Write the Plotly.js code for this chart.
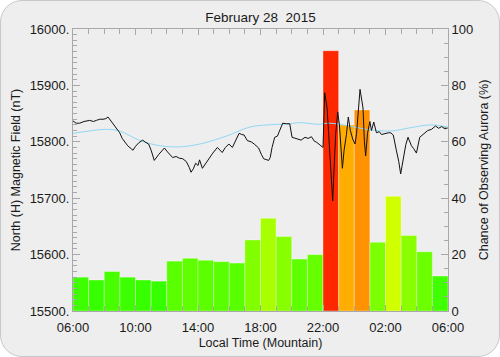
<!DOCTYPE html>
<html>
<head>
<meta charset="utf-8">
<script src="https://cdn.plot.ly/plotly-3.0.1.min.js"></script>
<style>
html,body{margin:0;padding:0;background:#ffffff;}
#frame{position:absolute;left:0;top:0;width:500px;height:357px;box-sizing:border-box;border:1px solid #c8c8c8;border-radius:22px;background:#eeeeee;}
#chart{position:absolute;left:0;top:0;width:500px;height:357px;}
</style>
</head>
<body>
<div id="frame"></div>
<div id="chart"></div>
<script>
// Hourly aurora chance bars (hour start, hours from 06:00 = 6 ... 05:00 next day = 29)
const barHours = [6,7,8,9,10,11,12,13,14,15,16,17,18,19,20,21,22,23,24,25,26,27,28,29];
const auroraChance = [12,11,14,12,11,10.6,17.7,18.7,18,17.5,17,25.2,32.9,26.4,18.4,20,92.3,66,71.3,24.4,40.7,26.8,21,12.4];

// Magnetic field (nT), time in hours since midnight of Feb 28 (local)
const fieldHours = [6.0,6.2,6.43,6.7,7.07,7.3,7.5,7.71,7.92,8.1,8.24,8.35,8.5,8.7,8.99,9.15,9.31,9.5,9.84,10.0,10.2,10.46,10.6,10.84,11.0,11.2,11.5,11.85,12.05,12.38,12.6,12.8,13.02,13.25,13.45,13.55,13.7,13.85,14.0,14.1,14.28,14.5,14.7,14.95,15.24,15.4,15.55,15.75,15.98,16.2,16.4,16.63,16.8,16.95,17.16,17.4,17.6,17.88,18.05,18.2,18.52,18.62,18.74,18.91,19.08,19.25,19.42,19.65,19.87,20.02,20.3,20.6,20.85,21.05,21.26,21.45,21.6,21.8,22.0,22.11,22.2,22.26,22.35,22.43,22.52,22.62,22.72,22.81,22.94,23.05,23.24,23.35,23.5,23.62,23.75,23.9,24.05,24.15,24.37,24.47,24.56,24.65,24.73,24.85,25.0,25.1,25.25,25.42,25.6,25.74,26.0,26.2,26.33,26.5,26.7,26.85,26.97,27.15,27.3,27.44,27.55,27.66,27.8,27.98,28.19,28.35,28.5,28.7,28.94,29.2,29.4,29.6,29.8,30.0];
const fieldValues = [15837,15833,15833,15836,15838,15836,15838,15840,15840,15841,15844,15840,15834,15826,15816,15806,15799,15793,15785,15792,15798,15803,15800,15796,15785,15767,15778,15789,15782,15772,15774,15771,15770,15765,15754,15746,15752,15762,15758,15768,15753,15762,15772,15780,15790,15786,15781,15790,15796,15790,15802,15815,15813,15812,15802,15800,15796,15789,15778,15770,15767,15772,15790,15808,15810,15822,15833,15832,15832,15808,15805,15803,15808,15806,15809,15801,15799,15794,15790,15887,15870,15860,15820,15784,15730,15695,15760,15813,15853,15830,15753,15785,15813,15844,15820,15805,15796,15815,15893,15875,15860,15800,15775,15815,15836,15820,15835,15816,15818,15813,15815,15816,15816,15812,15784,15765,15743,15770,15795,15808,15800,15793,15788,15780,15808,15812,15816,15820,15822,15828,15824,15827,15823,15825];

// Smoothed reference field (nT)
const refHours = [6.0,7.0,8.1,9.0,10.3,11.6,12.8,14.1,15.8,17.3,18.5,19.9,20.5,21.7,22.4,23.7,24.8,26.3,27.6,28.9,30.0];
const refValues = [15815,15819,15822,15819,15802,15793,15791,15796,15810,15826,15830,15832,15834,15831,15833,15828,15822,15819,15825,15830,15826];

// Axis tick labels
const xTickVals = [6,10,14,18,22,26,30];
const xTickText = ['06:00','10:00','14:00','18:00','22:00','02:00','06:00'];
const fieldTickVals = [15500,15600,15700,15800,15900,16000];
const fieldTickText = ['15500.','15600.','15700.','15800.','15900.','16000.'];
const chanceTickVals = [0,20,40,60,80,100];
const chanceTickText = ['0','20','40','60','80','100'];

const FONT = 'Liberation Sans, Arial, sans-serif';
const AXC = '#a8a8a8';
const TXT = '#1a1a1a';

const traces = [
  {
    type: 'bar',
    x: barHours.map(h => h + 0.5),
    y: auroraChance,
    width: 1,
    yaxis: 'y',
    marker: {
      color: auroraChance,
      cmin: 0, cmax: 100,
      colorscale: [[0,'#00ff00'],[0.5,'#ffff00'],[1,'#ff0000']],
      line: {color: 'rgba(255,255,255,0.35)', width: 1}
    },
    hoverinfo: 'skip'
  },
  {
    type: 'scatter', mode: 'lines',
    x: refHours, y: refValues,
    line: {color: '#8fd8f5', width: 1, shape: 'spline', smoothing: 1.0},
    yaxis: 'y2'
  },
  {
    type: 'scatter', mode: 'lines',
    x: fieldHours, y: fieldValues,
    line: {color: '#111111', width: 1},
    yaxis: 'y2'
  }
];

const layout = {
  width: 500, height: 357,
  margin: {l: 73, r: 52, t: 29, b: 46, pad: 0},
  paper_bgcolor: 'rgba(0,0,0,0)',
  plot_bgcolor: 'rgba(0,0,0,0)',
  showlegend: false,
  font: {family: FONT, size: 13, color: TXT},
  bargap: 0,
  title: {
    text: 'February 28&nbsp;&nbsp;2015',
    font: {family: FONT, size: 13.5, color: TXT},
    x: 0.5, xref: 'paper', xanchor: 'center',
    y: 1 - 17/357, yref: 'container', yanchor: 'middle'
  },
  xaxis: {
    range: [6, 30],
    tickmode: 'array', tickvals: xTickVals, ticktext: xTickText,
    ticks: 'inside', ticklen: 6, tickcolor: AXC, tickwidth: 1,
    minor: {dtick: 1, tick0: 6, ticks: 'inside', ticklen: 5, tickcolor: AXC, showgrid: false},
    showline: true, linecolor: AXC, linewidth: 1, mirror: 'ticks',
    showgrid: false, zeroline: false,
    tickfont: {family: FONT, size: 13, color: TXT},
    ticklabelstandoff: 4,
    title: {text: 'Local Time (Mountain)', font: {family: FONT, size: 12.5, color: TXT}, standoff: 4}
  },
  yaxis: {
    range: [0, 100], side: 'right',
    tickmode: 'array', tickvals: chanceTickVals, ticktext: chanceTickText,
    ticks: 'inside', ticklen: 7, tickcolor: AXC, tickwidth: 1,
    minor: {dtick: 5, tick0: 0, ticks: 'inside', ticklen: 4, tickcolor: AXC, showgrid: false},
    showline: true, linecolor: AXC, linewidth: 1,
    showgrid: false, zeroline: false,
    tickfont: {family: FONT, size: 13, color: TXT},
    title: {text: 'Chance of Observing Aurora (%)', font: {family: FONT, size: 12.5, color: TXT}, standoff: 6}
  },
  yaxis2: {
    range: [15500, 16000], overlaying: 'y', side: 'left',
    tickmode: 'array', tickvals: fieldTickVals, ticktext: fieldTickText,
    ticks: 'inside', ticklen: 7, tickcolor: AXC, tickwidth: 1,
    minor: {dtick: 10, tick0: 15500, ticks: 'inside', ticklen: 4, tickcolor: AXC, showgrid: false},
    showline: true, linecolor: AXC, linewidth: 1,
    showgrid: false, zeroline: false,
    tickfont: {family: FONT, size: 13, color: TXT},
    title: {text: 'North (H) Magnetic Field (nT)', font: {family: FONT, size: 12.5, color: TXT}, standoff: 6}
  }
};

Plotly.newPlot('chart', traces, layout, {staticPlot: true, displayModeBar: false});
</script>
</body>
</html>
